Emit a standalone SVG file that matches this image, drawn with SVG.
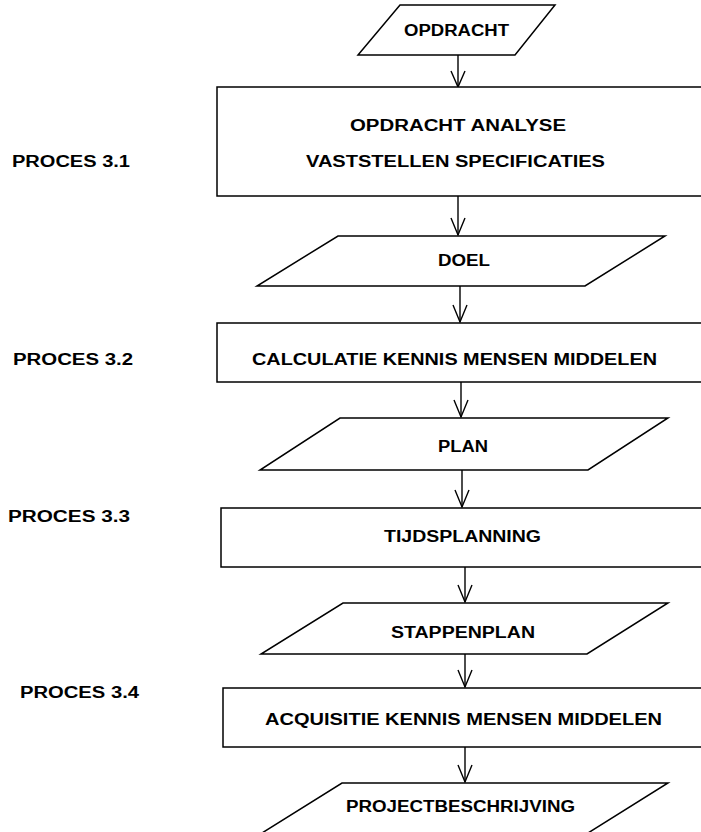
<svg xmlns="http://www.w3.org/2000/svg" width="701" height="832" viewBox="0 0 701 832">
<style>
  .shape { fill: #fff; stroke: #000; stroke-width: 1.5; }
  .lbl { font-family: "Liberation Sans", Arial, Helvetica, sans-serif; font-weight: bold; font-size: 16px; fill: #000; }
  .conn { stroke: #000; stroke-width: 1.4; fill: none; }
  .head { stroke: #000; stroke-width: 1.4; fill: none; }
</style>
<rect width="701" height="832" fill="#fff"/>

<g id="connectors">
  <line class="conn" x1="458" y1="55" x2="458" y2="87"/>
  <polyline class="head" points="451,71 458,87 465,71"/>
  <line class="conn" x1="458" y1="196" x2="458" y2="235"/>
  <polyline class="head" points="451,218 458,235 465,218"/>
  <line class="conn" x1="460" y1="286" x2="460" y2="322"/>
  <polyline class="head" points="453,305 460,322 467,305"/>
  <line class="conn" x1="461" y1="382" x2="461" y2="417"/>
  <polyline class="head" points="454,400 461,417 468,400"/>
  <line class="conn" x1="462" y1="470" x2="462" y2="507"/>
  <polyline class="head" points="455,490 462,507 469,490"/>
  <line class="conn" x1="465" y1="567" x2="465" y2="602"/>
  <polyline class="head" points="458,585 465,602 472,585"/>
  <line class="conn" x1="465" y1="654" x2="465" y2="687"/>
  <polyline class="head" points="458,670 465,687 472,670"/>
  <line class="conn" x1="465" y1="747" x2="465" y2="782"/>
  <polyline class="head" points="458,765 465,782 472,765"/>
</g>

<g id="opdracht">
  <polygon class="shape" points="400,5 555,5 515,55 358,55"/>
  <text class="lbl" x="404" y="36" textLength="105" lengthAdjust="spacingAndGlyphs">OPDRACHT</text>
</g>

<g id="proces31">
  <rect class="shape" x="217" y="87" width="510" height="109"/>
  <text class="lbl" x="350" y="131" textLength="216" lengthAdjust="spacingAndGlyphs">OPDRACHT  ANALYSE</text>
  <text class="lbl" x="306" y="167" textLength="299" lengthAdjust="spacingAndGlyphs">VASTSTELLEN SPECIFICATIES</text>
</g>

<g id="doel">
  <polygon class="shape" points="338,236 665,236 585,286 257,286"/>
  <text class="lbl" x="438" y="266" textLength="52" lengthAdjust="spacingAndGlyphs">DOEL</text>
</g>

<g id="proces32">
  <rect class="shape" x="217" y="323" width="510" height="59"/>
  <text class="lbl" x="252" y="365" textLength="405" lengthAdjust="spacingAndGlyphs">CALCULATIE KENNIS MENSEN MIDDELEN</text>
</g>

<g id="plan">
  <polygon class="shape" points="340,418 668,418 588,470 260,470"/>
  <text class="lbl" x="438" y="452" textLength="50" lengthAdjust="spacingAndGlyphs">PLAN</text>
</g>

<g id="proces33">
  <rect class="shape" x="221" y="508" width="510" height="59"/>
  <text class="lbl" x="384" y="542" textLength="157" lengthAdjust="spacingAndGlyphs">TIJDSPLANNING</text>
</g>

<g id="stappenplan">
  <polygon class="shape" points="343,603 668,603 587,654 261,654"/>
  <text class="lbl" x="391" y="638" textLength="144" lengthAdjust="spacingAndGlyphs">STAPPENPLAN</text>
</g>

<g id="proces34">
  <rect class="shape" x="223" y="688" width="510" height="59"/>
  <text class="lbl" x="265" y="725" textLength="397" lengthAdjust="spacingAndGlyphs">ACQUISITIE KENNIS MENSEN MIDDELEN</text>
</g>

<g id="projectbeschrijving">
  <polygon class="shape" points="342,783 668,783 588,833 262,833"/>
  <text class="lbl" x="346" y="812" textLength="229" lengthAdjust="spacingAndGlyphs">PROJECTBESCHRIJVING</text>
</g>

<g id="labels">
  <text class="lbl" x="12" y="167" textLength="118" lengthAdjust="spacingAndGlyphs">PROCES 3.1</text>
  <text class="lbl" x="13" y="365" textLength="120" lengthAdjust="spacingAndGlyphs">PROCES 3.2</text>
  <text class="lbl" x="8" y="522" textLength="122" lengthAdjust="spacingAndGlyphs">PROCES 3.3</text>
  <text class="lbl" x="20" y="698" textLength="119" lengthAdjust="spacingAndGlyphs">PROCES 3.4</text>
</g>
</svg>
